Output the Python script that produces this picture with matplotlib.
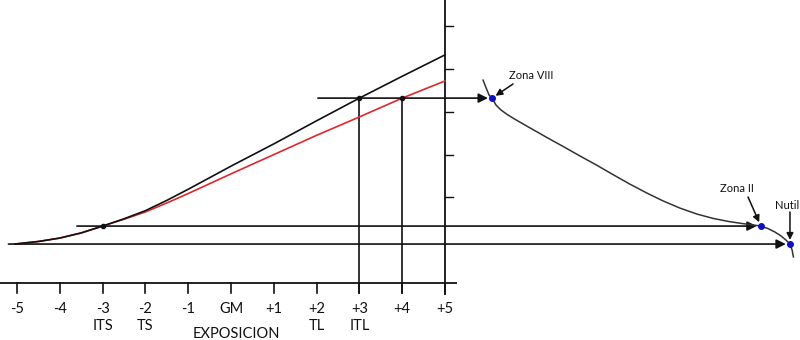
import matplotlib
matplotlib.use("Agg")
import matplotlib.pyplot as plt

plt.rcParams["font.family"] = ["Lato", "DejaVu Sans"]

# ── exposure scale (stops) ───────────────────────────────────────────────────
stops = [-5, -4, -3, -2, -1, 0, 1, 2, 3, 4, 5]
stop_labels = ["-5", "-4", "-3", "-2", "-1", "GM", "+1", "+2", "+3", "+4", "+5"]
sub_stops = [-3, -2, 2, 3]
sub_labels = ["ITS", "TS", "TL", "ITL"]
density_ticks = [2, 3, 4, 5, 6]

# ── film characteristic curves (exposure vs density) ────────────────────────
film_x = [-5.05, -4.5, -4.0, -3.5, -3.0, -2.5, -2.0, -1.5, -1.0, -0.5, 0.0,
          1.0, 2.0, 3.0, 4.0, 5.0]
film_black = [0.91, 0.97, 1.05, 1.17, 1.33, 1.50, 1.69, 1.93, 2.19, 2.46, 2.73,
              3.25, 3.79, 4.32, 4.83, 5.33]
film_red = [0.91, 0.97, 1.05, 1.17, 1.33, 1.49, 1.66, 1.87, 2.09, 2.32, 2.55,
            3.00, 3.45, 3.88, 4.32, 4.72]

# ── paper response curve, rotated quadrant ──────────────────────────────────
paper_x = [5.89, 5.96, 6.03, 6.10, 6.19, 6.31, 6.45, 6.61, 6.80, 7.01, 7.38,
           7.76, 8.15, 8.55, 8.93, 9.32, 9.72, 10.09, 10.49, 10.89, 11.26,
           11.61, 11.94, 12.17, 12.38, 12.55, 12.71, 12.85, 12.97, 13.06,
           13.11, 13.14]
paper_y = [4.74, 4.56, 4.39, 4.32, 4.16, 4.04, 3.94, 3.84, 3.73, 3.61, 3.40,
           3.19, 2.97, 2.75, 2.53, 2.31, 2.10, 1.92, 1.75, 1.61, 1.51,
           1.44, 1.39, 1.36, 1.33, 1.27, 1.19, 1.10, 1.00, 0.91,
           0.77, 0.61]

# transfer arrows: density level, start on the film side, end on the paper curve
transfer_y = [4.32, 1.33, 0.91]
transfer_start = [2.03, -3.6, -5.2]
transfer_end = [6.10, 12.38, 13.06]

# points where the film curves meet the transfer lines
film_dots_x = [-3, 3, 4]
film_dots_y = [1.33, 4.32, 4.32]

# paper zones
zone_names = ["Zona VIII", "Zona II", "Nutil"]
zone_text_xy = [(7.01, 4.84), (11.82, 2.20), (12.99, 1.80)]
zone_arrow_from = [(6.59, 4.65), (12.08, 2.01), (13.06, 1.66)]

PX = 42.8  # pixels per unit

fig = plt.figure(figsize=(8, 3.4), dpi=100)
ax = fig.add_axes([0, 0, 1, 1])
ax.set_xlim(-231 / PX, 569 / PX)
ax.set_ylim(-57 / PX, 283 / PX)
ax.axis("off")

ink = "#111111"

# axes
ax.plot([-231 / PX, 5.28], [0, 0], color=ink, lw=1.3, solid_capstyle="butt")
ax.plot([5, 5], [-0.28, 6.62], color=ink, lw=1.3, solid_capstyle="butt")
for s in stops:
    ax.plot([s, s], [0, -0.234], color=ink, lw=1.2)
for d in density_ticks:
    ax.plot([5, 5.19], [d, d], color=ink, lw=1.0)

for s, lab in zip(stops, stop_labels):
    ax.text(s, -0.60, lab, ha="center", va="center", fontsize=10.5, color=ink)
for s, lab in zip(sub_stops, sub_labels):
    ax.text(s, -1.01, lab, ha="center", va="center", fontsize=10.5, color=ink)
ax.text(0.12, -1.29, "EXPOSICION", ha="center", va="baseline", fontsize=10.5, color=ink)

# film curves
ax.plot(film_x, film_red, color="#e0262a", lw=1.2, zorder=3)
ax.plot(film_x, film_black, color=ink, lw=1.2, zorder=4)

# drop lines from the curve intersections
for x, y in zip(film_dots_x[1:], film_dots_y[1:]):
    ax.plot([x, x], [y, -0.234], color=ink, lw=1.2)

# transfer arrows
for y, x0, x1 in zip(transfer_y, transfer_start, transfer_end):
    ax.annotate("", xy=(x1, y), xytext=(x0, y),
                arrowprops=dict(arrowstyle="-|>", color=ink, lw=1.2,
                                mutation_scale=14, shrinkA=0, shrinkB=3))

ax.plot(film_dots_x, film_dots_y, "o", color=ink, ms=3, zorder=5)

# paper curve and zone markers
ax.plot(paper_x, paper_y, color="#333333", lw=1.1, zorder=3)
ax.plot(transfer_end, transfer_y, "o", color="#1010c0", ms=4, zorder=6)

for name, (tx, ty), (ax0, ay0), px, py in zip(zone_names, zone_text_xy,
                                               zone_arrow_from, transfer_end, transfer_y):
    ax.text(tx, ty, name, ha="center", va="center", fontsize=8, color=ink)
    ax.annotate("", xy=(px, py), xytext=(ax0, ay0),
                arrowprops=dict(arrowstyle="-|>", color=ink, lw=1.1,
                                mutation_scale=10, shrinkA=0, shrinkB=3))

fig.savefig("out.png", dpi=100, facecolor="white")
